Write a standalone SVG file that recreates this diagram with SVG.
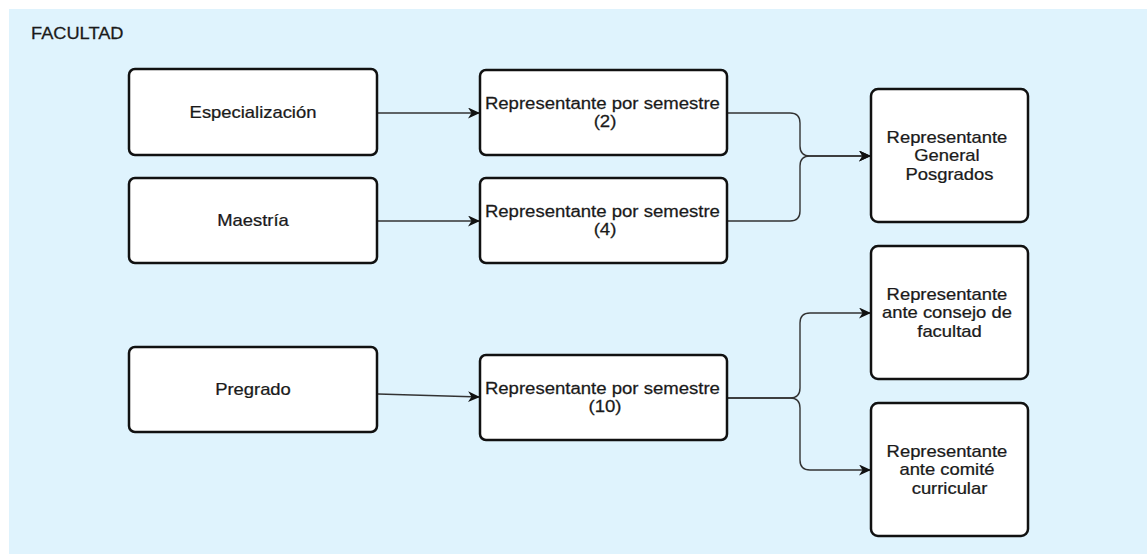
<svg xmlns="http://www.w3.org/2000/svg" width="1147" height="554" viewBox="0 0 1147 554">
  <style>
    .bg { fill: #dff3fd; }
    .box { fill: #ffffff; stroke: #111111; stroke-width: 2.5; }
    .lbl { font-family: "Liberation Sans", Arial, sans-serif; font-size: 16px; fill: #1a1a1a; stroke: #1a1a1a; stroke-width: 0.25; text-anchor: middle; }
    .title { font-family: "Liberation Sans", Arial, sans-serif; font-size: 16px; fill: #1a1a1a; stroke: #1a1a1a; stroke-width: 0.25; }
    .edge { fill: none; stroke: #333333; stroke-width: 1.4; }
  </style>
  <defs>
    <marker id="arrow" markerUnits="userSpaceOnUse" markerWidth="13" markerHeight="11" refX="12" refY="5.5" orient="auto">
      <path d="M0,0 L12,5.5 L0,11 L3.5,5.5 Z" fill="#111111"/>
    </marker>
  </defs>

  <!-- container -->
  <g id="facultad">
    <rect class="bg" x="9" y="9" width="1138" height="545"/>
    <text class="title" transform="matrix(1.14 0 0 1 31 0)" x="0" y="39">FACULTAD</text>
  </g>

  <!-- connectors -->
  <g id="connectors">
    <path class="edge" d="M378,113 L480,113" marker-end="url(#arrow)"/>
    <path class="edge" d="M378,221 L480,221" marker-end="url(#arrow)"/>
    <path class="edge" d="M378,394 L480,397" marker-end="url(#arrow)"/>
    <path class="edge" d="M727,113 L790,113 Q800,113 800,123 L800,146 Q800,156 810,156 L871,156" marker-end="url(#arrow)"/>
    <path class="edge" d="M727,221 L790,221 Q800,221 800,211 L800,166 Q800,156 810,156 L871,156" marker-end="url(#arrow)"/>
    <path class="edge" d="M727,398 L790,398 Q800,398 800,388 L800,323 Q800,313 810,313 L871,313" marker-end="url(#arrow)"/>
    <path class="edge" d="M727,398 L790,398 Q800,398 800,408 L800,460 Q800,470 810,470 L871,470" marker-end="url(#arrow)"/>
  </g>

  <!-- program nodes -->
  <g id="especializacion">
    <rect class="box" x="129" y="69" width="248" height="86" rx="6"/>
    <text class="lbl" transform="matrix(1.15 0 0 1 253 0)" x="0" y="118">Especialización</text>
  </g>
  <g id="maestria">
    <rect class="box" x="129" y="178" width="248" height="85" rx="6"/>
    <text class="lbl" transform="matrix(1.15 0 0 1 253 0)" x="0" y="226">Maestría</text>
  </g>
  <g id="pregrado">
    <rect class="box" x="129" y="347" width="248" height="85" rx="6"/>
    <text class="lbl" transform="matrix(1.15 0 0 1 253 0)" x="0" y="395">Pregrado</text>
  </g>

  <!-- semester representative nodes -->
  <g id="rep-semestre-2">
    <rect class="box" x="480" y="70" width="247" height="85" rx="6"/>
    <text class="lbl" transform="matrix(1.16 0 0 1 605 0)">
      <tspan x="0" y="109">Representante por semestre</tspan>
      <tspan x="0" y="127.5">(2)</tspan>
    </text>
  </g>
  <g id="rep-semestre-4">
    <rect class="box" x="480" y="178" width="247" height="85" rx="6"/>
    <text class="lbl" transform="matrix(1.16 0 0 1 605 0)">
      <tspan x="0" y="217">Representante por semestre</tspan>
      <tspan x="0" y="235.5">(4)</tspan>
    </text>
  </g>
  <g id="rep-semestre-10">
    <rect class="box" x="480" y="355" width="247" height="85" rx="6"/>
    <text class="lbl" transform="matrix(1.16 0 0 1 605 0)">
      <tspan x="0" y="394">Representante por semestre</tspan>
      <tspan x="0" y="412.5">(10)</tspan>
    </text>
  </g>

  <!-- target representative nodes -->
  <g id="rep-general-posgrados">
    <rect class="box" x="871" y="89" width="157" height="133" rx="7"/>
    <text class="lbl" transform="matrix(1.15 0 0 1 949.5 0)">
      <tspan x="0" y="143">Representante</tspan>
      <tspan x="0" y="161.3">General</tspan>
      <tspan x="0" y="179.6">Posgrados</tspan>
    </text>
  </g>
  <g id="rep-consejo-facultad">
    <rect class="box" x="871" y="246" width="157" height="133" rx="7"/>
    <text class="lbl" transform="matrix(1.15 0 0 1 949.5 0)">
      <tspan x="0" y="300">Representante</tspan>
      <tspan x="0" y="318.3">ante consejo de</tspan>
      <tspan x="0" y="336.6">facultad</tspan>
    </text>
  </g>
  <g id="rep-comite-curricular">
    <rect class="box" x="871" y="403" width="157" height="133" rx="7"/>
    <text class="lbl" transform="matrix(1.15 0 0 1 949.5 0)">
      <tspan x="0" y="457">Representante</tspan>
      <tspan x="0" y="475.3">ante comité</tspan>
      <tspan x="0" y="493.6">curricular</tspan>
    </text>
  </g>
</svg>
